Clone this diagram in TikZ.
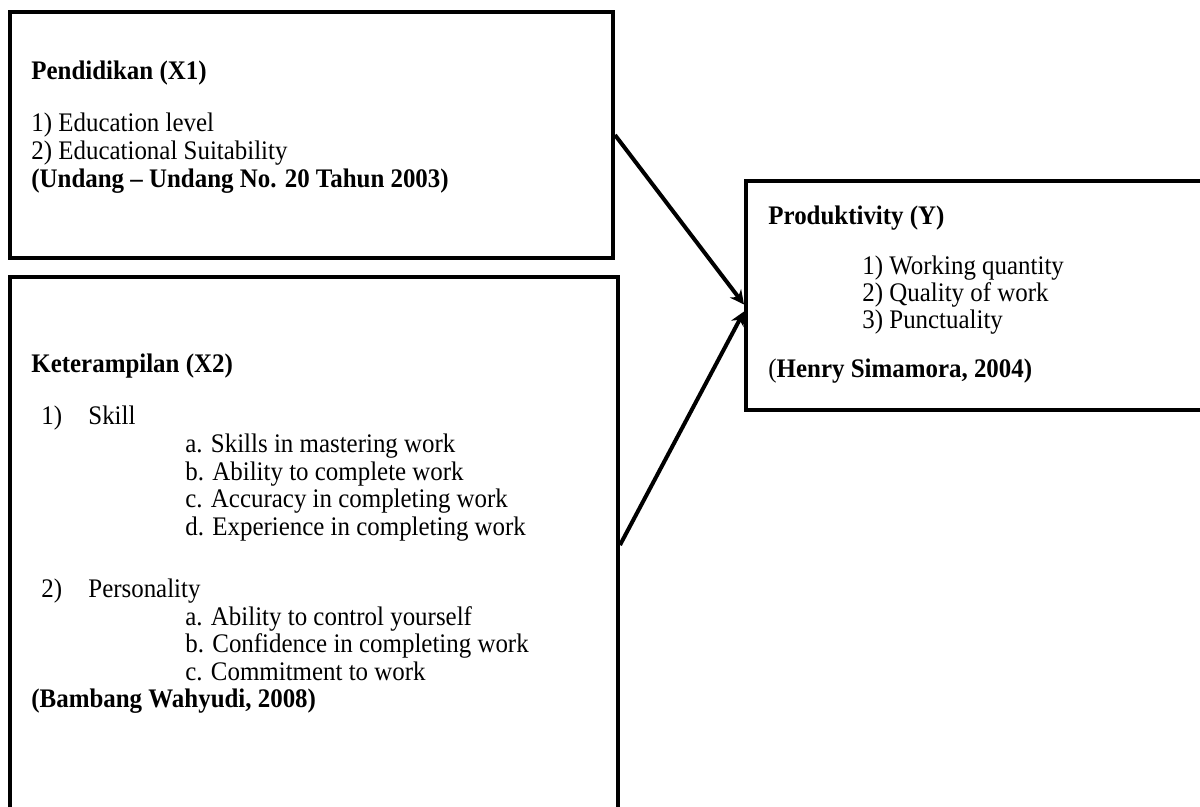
\documentclass[tikz,border=0pt]{standalone}
\usepackage{fontspec}
\setmainfont{Liberation Serif}[FakeStretch=0.93]
\usetikzlibrary{arrows.meta}

\begin{document}
\begin{tikzpicture}[x=0.5pt,y=-0.5pt,
    box/.style={draw=black,line width=2pt,inner sep=0pt},
    txt/.style={anchor=base west,inner sep=0pt,font=\fontsize{13.4}{15}\selectfont},
    head/.style={txt,font=\fontsize{13.4}{15}\selectfont\bfseries},
    link/.style={line width=2pt,-{Stealth[length=7pt,width=7pt]}}]
    \useasboundingbox (0,0) rectangle (1200,807);
    \clip (0,0) rectangle (1200,807);
    % the three boxes
    \node[box,minimum width=301.5pt,minimum height=123pt] (x1) at (311.5,135) {};
    \node[box,minimum width=304pt,minimum height=268pt] (x2) at (314,545) {};
    \node[box,minimum width=234.5pt,minimum height=114.5pt] (y) at (980.5,295.5) {};
    % Pendidikan
    \node[head] (t1) at (31,80) {Pendidikan (X1)};
    \node[txt] (t1a) at (31,132) {1) Education level};
    \node[txt] (t1b) at (31,160) {2) Educational Suitability};
    \node[head] (s1) at (31,188) {(Undang -- Undang No. 20 Tahun 2003)};
    % Keterampilan
    \node[head] (t2) at (31,373) {Keterampilan (X2)};
    \node[txt] (n1) at (41,425) {1)};
    \node[txt] (n1t) at (88,425) {Skill};
    \foreach \t [count=\i from 0] in {a. Skills in mastering work,
        b. Ability to complete work, c. Accuracy in completing work,
        d. Experience in completing work}
      \node[txt] (sk\i) at (185,453+27.5*\i) {\t};
    \node[txt] (n2) at (41,597) {2)};
    \node[txt] (n2t) at (88,597) {Personality};
    \foreach \t [count=\i from 0] in {a. Ability to control yourself,
        b. Confidence in completing work, c. Commitment to work}
      \node[txt] (ps\i) at (185,625+27.5*\i) {\t};
    \node[head] (s2) at (31,707) {(Bambang Wahyudi, 2008)};
    % Produktivity
    \node[head] (t3) at (768,225) {Produktivity (Y)};
    \foreach \t [count=\i from 0] in {1) Working quantity, 2) Quality of work,
        3) Punctuality}
      \node[txt] (pr\i) at (862,275+27*\i) {\t};
    \node[txt] (s3) at (768,378) {(\textbf{Henry Simamora, 2004)}};
    % arrows
    \draw[link] (x1.east) -- ([yshift=-4.5pt]y.west);
    \draw[link] (x2.east) -- ([yshift=-8pt]y.west);
\end{tikzpicture}
\end{document}
